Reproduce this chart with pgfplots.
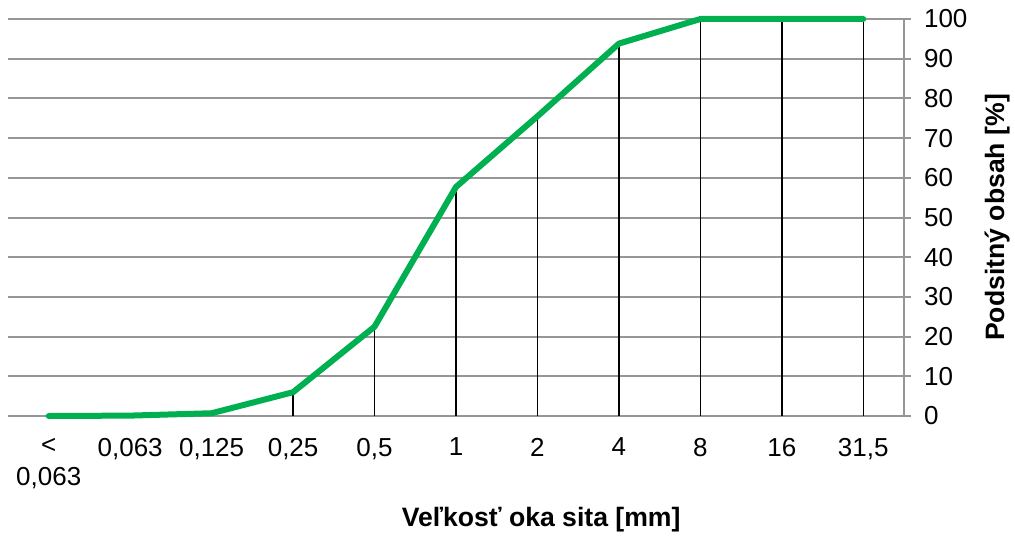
\documentclass[border=0pt]{standalone}
\usepackage{fontspec}
\setmainfont{Liberation Sans}
\usepackage{pgfplots}
\pgfplotsset{compat=1.18}
\definecolor{lgreen}{RGB}{0,176,80}
\definecolor{gridgray}{RGB}{150,150,150}
\begin{document}
\begin{tikzpicture}
\begin{axis}[
 scale only axis, width=448pt, height=198.5pt,
 xmin=-0.5, xmax=10.5, ymin=0, ymax=100,
 clip=false,
 font=\fontsize{13}{16}\selectfont,
 /pgf/number format/assume math mode=true,
 axis x line*=bottom, axis y line*=right,
 x axis line style={draw=none},
 y axis line style={gridgray, line width=1pt, -},
 ytick={0,10,...,100},
 ytick style={gridgray, line width=1pt},
 tick align=outside, major tick length=3.5pt,
 xtick={0,...,10}, xtick style={draw=none},
 xticklabels={{<\\0,063},{0,063},{0,125},{0,25},{0,5},1,2,4,8,16,{31,5}},
 xticklabel style={align=center, anchor=north, yshift=-4pt, font=\fontsize{13}{16}\selectfont},
 yticklabel style={anchor=west, xshift=3pt},
 ymajorgrids, grid style={gridgray, line width=1pt},
 xlabel={Veľkosť oka sita [mm]},
 xlabel style={font=\fontsize{13.3}{16}\selectfont\bfseries, at={(axis description cs:0.595,-0.262)}, anchor=center},
 ylabel={Podsitný obsah [\%]},
 ylabel style={font=\fontsize{13.3}{16}\selectfont\bfseries, at={(axis description cs:1.104,0.5)}, anchor=center, rotate=0},
]
\addplot[ycomb, black, line width=0.75pt, mark=none] coordinates {
(0,0) (1,0.1) (2,0.7) (3,6) (4,22.5) (5,57.7) (6,75.5) (7,93.8) (8,100) (9,100) (10,100)};
\addplot[lgreen, line width=3pt, line cap=round, line join=round, mark=none] coordinates {
(0,0) (1,0.1) (2,0.7) (3,6) (4,22.5) (5,57.7) (6,75.5) (7,93.8) (8,100) (9,100) (10,100)};
\end{axis}
\pgfresetboundingbox
\path[use as bounding box] (current axis.south west) ++(-4pt,-60pt) rectangle ([shift={(55.5pt,9.5pt)}]current axis.north east);
\end{tikzpicture}
\end{document}
